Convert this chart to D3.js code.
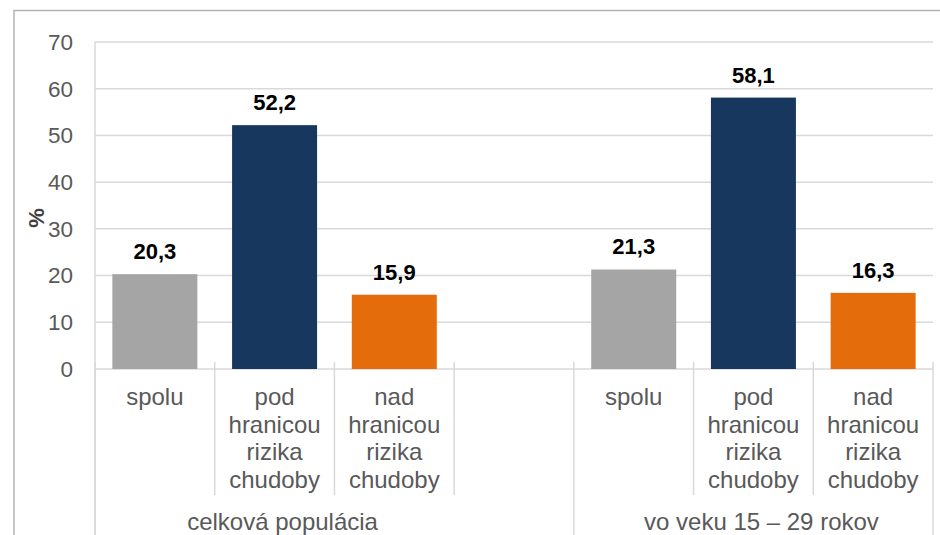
<!DOCTYPE html>
<html>
<head>
	<meta charset="utf-8">
	<title>Chudoba - spolu a mladi</title>
	<script src="https://cdnjs.cloudflare.com/ajax/libs/d3/7.8.5/d3.min.js"></script>
	<style>
		body { margin: 0; background: #fff; }
		svg text { font-family: "Liberation Sans", Arial, sans-serif; }
	</style>
</head>
<body>
<div id="chart"></div>
<script>
// data
var groups = ["celková populácia", "vo veku 15 – 29 rokov"];
var categories = [["spolu"], ["pod", "hranicou", "rizika", "chudoby"], ["nad", "hranicou", "rizika", "chudoby"]];
var valuesTotal = [20.3, 52.2, 15.9];
var valuesYouth = [21.3, 58.1, 16.3];
var colors = ["#a5a5a5", "#17375e", "#e46c0a"];
var yTicks = [0, 10, 20, 30, 40, 50, 60, 70];

// slots: group 1 has an empty 4th slot like the original
var slots = [];
valuesTotal.forEach(function (v, i) { slots.push({ id: "a" + i, g: 0, c: i, v: v }); });
slots.push({ id: "a-empty", g: 0, c: -1, v: null });
valuesYouth.forEach(function (v, i) { slots.push({ id: "b" + i, g: 1, c: i, v: v }); });

var width = 940, height = 535;
var plotLeft = 95, plotRight = 933, plotTop = 42, plotBottom = 369;

var svg = d3.select("#chart").append("svg")
	.attr("width", width)
	.attr("height", height);

// outer frame
svg.append("line").attr("x1", 14).attr("x2", width).attr("y1", 10.5).attr("y2", 10.5)
	.attr("stroke", "#b3b3b3").attr("stroke-width", 1.5);
svg.append("line").attr("x1", 14).attr("x2", 14).attr("y1", 10).attr("y2", height)
	.attr("stroke", "#b3b3b3").attr("stroke-width", 1.5);

var x = d3.scaleBand().domain(slots.map(function (d) { return d.id; }))
	.range([plotLeft, plotRight]).padding(0);
var y = d3.scaleLinear().domain([0, 70]).range([plotBottom, plotTop]);

var fmt = function (v) { return d3.format(".1f")(v).replace(".", ","); };

// gridlines
svg.append("g").selectAll("line").data(yTicks).join("line")
	.attr("x1", plotLeft).attr("x2", plotRight)
	.attr("y1", function (d) { return y(d); }).attr("y2", function (d) { return y(d); })
	.attr("stroke", "#d9d9d9").attr("stroke-width", 1.5);

// y axis line
svg.append("line").attr("x1", plotLeft).attr("x2", plotLeft).attr("y1", plotTop).attr("y2", height)
	.attr("stroke", "#d9d9d9").attr("stroke-width", 1.5);

// y tick labels
svg.append("g").selectAll("text").data(yTicks).join("text")
	.attr("x", 73).attr("y", function (d) { return y(d); })
	.attr("dy", "0.35em").attr("text-anchor", "end")
	.attr("font-size", 22.5).attr("fill", "#595959")
	.text(function (d) { return d; });

// y title
svg.append("text").attr("transform", "translate(44,218) rotate(-90)")
	.attr("text-anchor", "middle").attr("font-size", 22).attr("font-weight", "bold")
	.attr("fill", "#404040").text("%");

// category separators (short) and group separators (long)
var seps = slots.map(function (d) { return x(d.id); }).concat([plotRight]);
svg.append("g").selectAll("line").data(seps).join("line")
	.attr("x1", function (d) { return d; }).attr("x2", function (d) { return d; })
	.attr("y1", plotBottom - 7)
	.attr("y2", function (d, i) { return (i === 0 || i === 4 || i === 7) ? height : 495; })
	.attr("stroke", "#d9d9d9").attr("stroke-width", 1.5);

// bars
var bw = x.bandwidth() * 0.71;
var barData = slots.filter(function (d) { return d.v !== null; });
svg.append("g").selectAll("rect").data(barData).join("rect")
	.attr("x", function (d) { return x(d.id) + (x.bandwidth() - bw) / 2; })
	.attr("y", function (d) { return y(d.v); })
	.attr("width", bw)
	.attr("height", function (d) { return y(0) - y(d.v); })
	.attr("fill", function (d) { return colors[d.c]; });

// value labels
svg.append("g").selectAll("text").data(barData).join("text")
	.attr("x", function (d) { return x(d.id) + x.bandwidth() / 2; })
	.attr("y", function (d) { return y(d.v) - 15; })
	.attr("text-anchor", "middle").attr("font-size", 22).attr("font-weight", "bold")
	.attr("fill", "#000")
	.text(function (d) { return fmt(d.v); });

// category labels
var catLabels = svg.append("g").selectAll("text").data(barData).join("text")
	.attr("text-anchor", "middle").attr("font-size", 24).attr("fill", "#595959");
catLabels.each(function (d) {
	var t = d3.select(this);
	var cx = x(d.id) + x.bandwidth() / 2;
	categories[d.c].forEach(function (line, i) {
		t.append("tspan").attr("x", cx).attr("y", 405 + i * 27.7).text(line);
	});
});

// group labels (sit slightly right of each group's middle category)
var groupCenters = [x("a1") + x.bandwidth() / 2 + 8, x("b1") + x.bandwidth() / 2 + 8];
svg.append("g").selectAll("text").data(groups).join("text")
	.attr("x", function (d, i) { return groupCenters[i]; }).attr("y", 530)
	.attr("text-anchor", "middle").attr("font-size", 24).attr("fill", "#595959")
	.text(function (d) { return d; });
</script>
</body>
</html>
